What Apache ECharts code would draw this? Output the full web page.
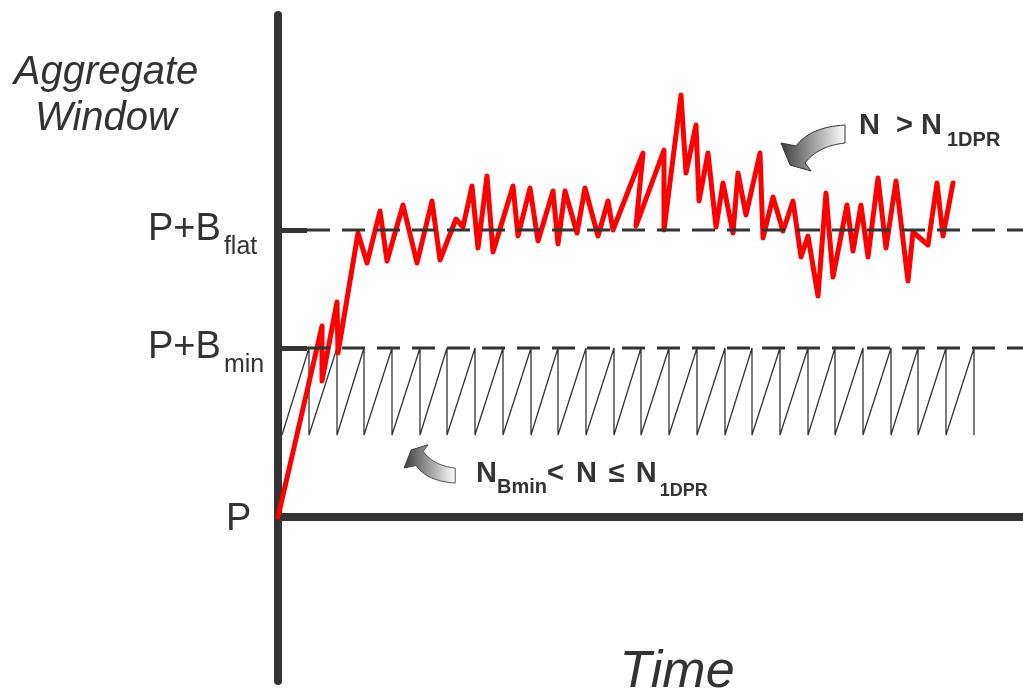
<!DOCTYPE html>
<html>
<head>
<meta charset="utf-8">
<script src="https://cdn.jsdelivr.net/npm/echarts@6.0.0/dist/echarts.min.js"></script>
<style>
html,body{margin:0;padding:0;background:#fff;}
#c{width:1023px;height:696px;}
</style>
</head>
<body>
<div id="c"></div>
<script>
// ---- data (time units on x, window size on y; P = 0) ----
const levelBmin = 169;
const levelBflat = 287;
const tickValues = [0, 169, 287];
const tickLabels = ['{p|P}', '{m|P+B}{s|min}', '{m|P+B}{s|flat}'];

// red aggregate window (N > N_1DPR)
const redTime = [0,44,44,59,60,80,89,102,109,125,139,154,162,178,185,194,200,209,215,235,240,252,260,275,280,287,299,307,320,330,335,365,358,386,386,403,408,418,421,430,438,445,455,460,468,482,485,495,505,515,523,530,540,548,555,569,575,583,590,600,608,618,630,635,650,659,665,675];
const redWindow = [0,191,136,215,164,284,254,306,256,312,254,316,257,298,290,331,269,341,265,331,281,329,276,326,273,326,284,329,281,316,287,364,291,367,287,422,344,392,316,364,290,334,284,344,302,364,279,320,286,316,260,281,221,324,240,312,266,312,260,339,269,336,236,285,272,334,281,334];

// sawtooth (N_Bmin < N <= N_1DPR)
const sawStart = 4;
const sawLow = 82;
const sawHigh = 169;
const sawDrops = [31,59,86,114,142,169,197,225,253,280,308,336,363,391,419,447,474,502,530,557,585,613,640,668,696];

const dashStart = 29;
const timeMax = 745;

// ---- build series data ----
const redData = redTime.map((t, i) => [t, redWindow[i]]);
const sawData = [[sawStart, sawLow]];
sawDrops.forEach(t => { sawData.push([t, sawHigh]); sawData.push([t, sawLow]); });
const dashBmin = [[dashStart, levelBmin], [timeMax, levelBmin]];
const dashBflat = [[dashStart, levelBflat], [timeMax, levelBflat]];

const FONT = '"Liberation Sans", Arial, sans-serif';
const TXT = '#333333';

// curved arrow outline (decoration)
function quad(p0, c, p1, n) {
  const out = [];
  for (let i = 0; i <= n; i++) {
    const t = i / n, u = 1 - t;
    out.push([u * u * p0[0] + 2 * u * t * c[0] + t * t * p1[0], u * u * p0[1] + 2 * u * t * c[1] + t * t * p1[1]]);
  }
  return out;
}
const arrowPoints = [].concat(
  quad([64, 0], [29, 2], [15, 21], 16),
  [[0, 18], [9, 40], [30, 46]],
  quad([24, 38], [37, 21], [64, 18], 16)
);
function arrowFill() {
  return new echarts.graphic.LinearGradient(0, 0, 1, 0, [
    {offset: 0, color: '#3c3c3c'},
    {offset: 1, color: '#ffffff'}
  ]);
}

const big = {fontSize: 29, fontWeight: 'bold', fontFamily: FONT, lineHeight: 30, fill: TXT};

const chart = echarts.init(document.getElementById('c'));
chart.setOption({
  animation: false,
  backgroundColor: '#ffffff',
  grid: {left: 278, right: 0, top: 15, bottom: 15},
  xAxis: {
    type: 'value', min: 0, max: timeMax,
    axisLine: {show: true, onZero: true, lineStyle: {color: '#333', width: 8}},
    axisTick: {show: false}, axisLabel: {show: false}, splitLine: {show: false}
  },
  yAxis: {
    type: 'value', min: -164, max: 502,
    axisLine: {show: true, onZero: false, lineStyle: {color: '#333', width: 8, cap: 'round'}},
    axisTick: {show: true, inside: true, length: 29, customValues: [levelBmin, levelBflat],
      lineStyle: {color: '#333', width: 5}},
    axisLabel: {
      show: true, customValues: tickValues,
      formatter: v => tickLabels[tickValues.indexOf(v)],
      margin: 130, align: 'left', color: TXT, fontFamily: FONT,
      rich: {
        p: {fontSize: 38, lineHeight: 40, color: TXT, fontFamily: FONT, padding: [6, 0, 0, 78]},
        m: {fontSize: 38, lineHeight: 40, color: TXT, fontFamily: FONT},
        s: {fontSize: 25, lineHeight: 25, color: TXT, fontFamily: FONT, padding: [35, 0, 0, 3]}
      }
    },
    splitLine: {show: false}
  },
  series: [
    {type: 'line', data: sawData, symbol: 'none', z: 2,
      lineStyle: {color: '#333', width: 1.3}},
    {type: 'line', data: redData, symbol: 'none', z: 3,
      lineStyle: {color: '#ff0000', width: 5, join: 'round', cap: 'round'}},
    {type: 'line', data: dashBmin, symbol: 'none', z: 4,
      lineStyle: {color: '#333', width: 3, type: [23, 12]}},
    {type: 'line', data: dashBflat, symbol: 'none', z: 4,
      lineStyle: {color: '#333', width: 3, type: [23, 12]}}
  ],
  graphic: [
    {type: 'text', x: 106, y: 96, z: 10, style: {
      text: 'Aggregate\nWindow', font: 'italic 40px ' + FONT, fill: TXT,
      align: 'center', verticalAlign: 'middle', lineHeight: 46}},
    {type: 'text', x: 677, y: 673, z: 10, style: {
      text: 'Time', font: 'italic 52px ' + FONT, fill: TXT,
      align: 'center', verticalAlign: 'middle'}},
    {type: 'text', x: 859, y: 126, z: 10, style: {
      text: '{m|N  > N}{s|1DPR}',
      align: 'left', verticalAlign: 'middle',
      rich: {
        m: big,
        s: {fontSize: 20, fontWeight: 'bold', fontFamily: FONT, lineHeight: 20, fill: TXT, padding: [28, 0, 0, 5]}
      }}},
    {type: 'text', x: 476, y: 474, z: 10, style: {
      text: '{m|N}{a|Bmin}{m|<}{g1|N}{g2|\u2264}{g3|N}{b|1DPR}',
      align: 'left', verticalAlign: 'middle',
      rich: {
        m: big,
        g1: Object.assign({}, big, {padding: [0, 0, 0, 12]}),
        g2: Object.assign({}, big, {padding: [0, 0, 0, 12]}),
        g3: Object.assign({}, big, {padding: [0, 0, 0, 11]}),
        a: {fontSize: 20, fontWeight: 'bold', fontFamily: FONT, lineHeight: 20, fill: TXT, padding: [27, 0, 0, 0]},
        b: {fontSize: 18, fontWeight: 'bold', fontFamily: FONT, lineHeight: 18, fill: TXT, padding: [34, 0, 0, 3]}
      }}},
    {type: 'polygon', x: 781, y: 125, z: 10, shape: {points: arrowPoints},
      style: {fill: arrowFill(), stroke: '#333', lineWidth: 1}},
    {type: 'polygon', x: 404, y: 483, scaleX: 0.8, scaleY: -0.83, z: 10, shape: {points: arrowPoints},
      style: {fill: arrowFill(), stroke: '#333', lineWidth: 1}}
  ]
});
</script>
</body>
</html>
